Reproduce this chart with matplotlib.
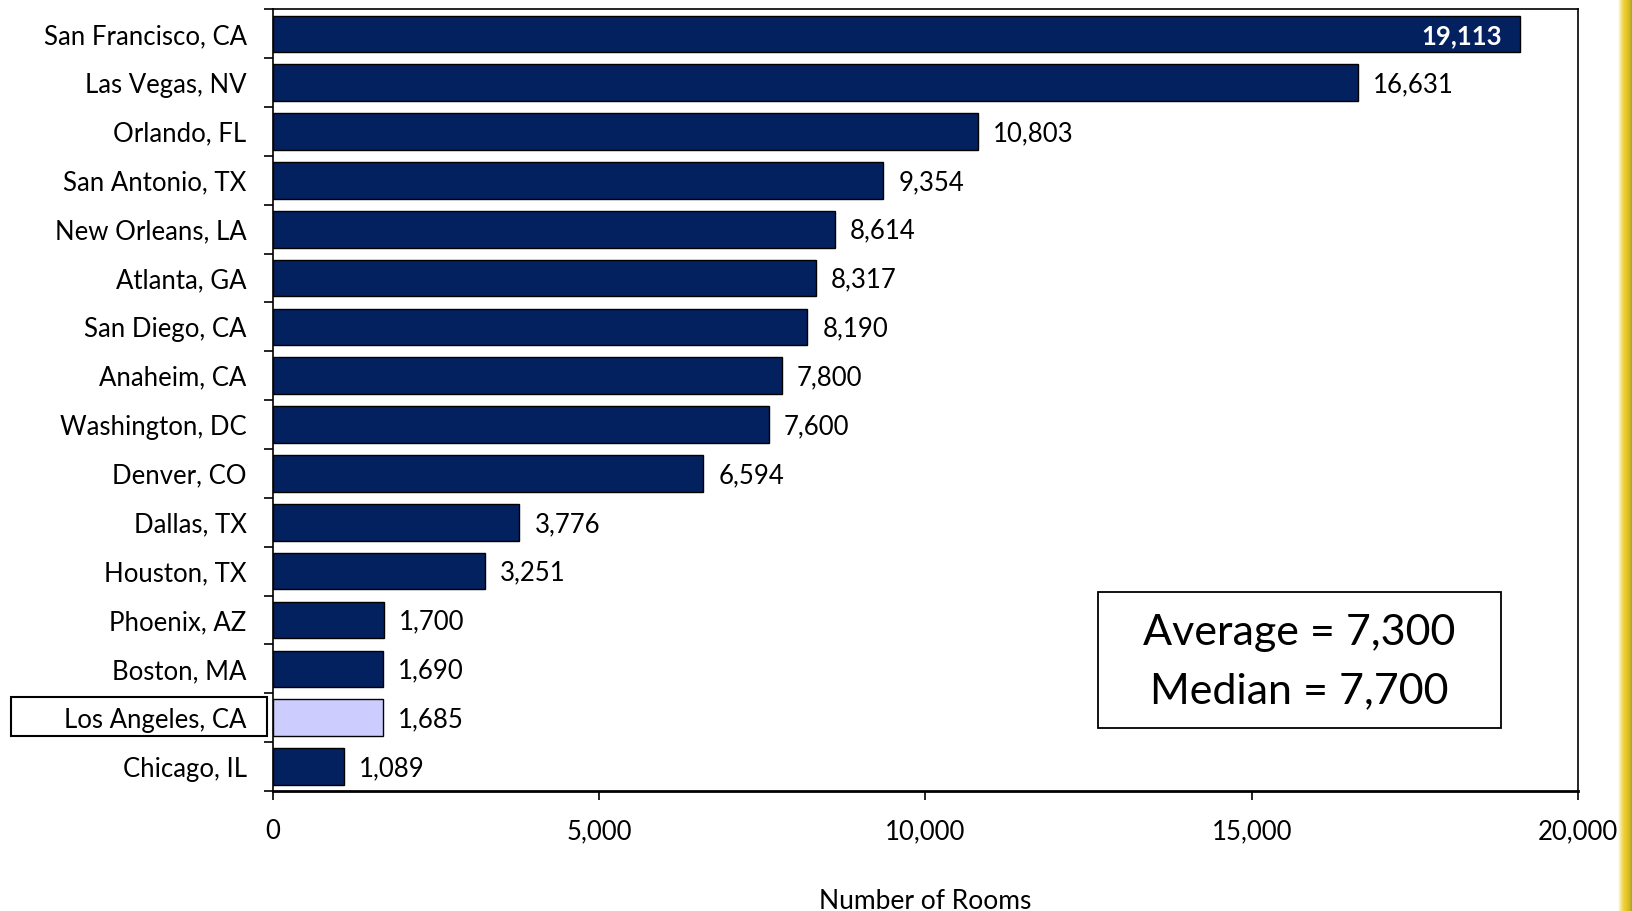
import matplotlib
matplotlib.use("Agg")
import matplotlib.pyplot as plt
from matplotlib.patches import Rectangle
from matplotlib.colors import LinearSegmentedColormap
import numpy as np

plt.rcParams['font.family'] = ['Lato', 'DejaVu Sans']

cities = ["San Francisco, CA", "Las Vegas, NV", "Orlando, FL", "San Antonio, TX",
          "New Orleans, LA", "Atlanta, GA", "San Diego, CA", "Anaheim, CA",
          "Washington, DC", "Denver, CO", "Dallas, TX", "Houston, TX",
          "Phoenix, AZ", "Boston, MA", "Los Angeles, CA", "Chicago, IL"]
rooms = [19113, 16631, 10803, 9354, 8614, 8317, 8190, 7800,
         7600, 6594, 3776, 3251, 1700, 1690, 1685, 1089]
highlight = "Los Angeles, CA"
summary_lines = ["Average = 7,300", "Median = 7,700"]
x_ticks = [0, 5000, 10000, 15000, 20000]
x_label = "Number of Rooms"

navy = "#03215F"
light = "#CCCCFF"
W, H = 1633, 911

fig = plt.figure(figsize=(W/100, H/100), dpi=100)

# decorative stripe on right edge (drawn first, behind everything)
sax = fig.add_axes([1618/W, 0, 15/W, 1], zorder=0)
cmap = LinearSegmentedColormap.from_list("stripe", ["#FFFFFF", "#F6E48A", "#EFCF3A", "#E6C41E", "#C9B42A", "#8E9A3A"])
sax.imshow(np.linspace(0, 1, 100)[None, :], aspect="auto", cmap=cmap, extent=[0, 1, 0, 1])
sax.axis("off")

ax = fig.add_axes([273/W, 1-791/H, (1578-273)/W, (791-9.4)/H], zorder=2)
ax.patch.set_alpha(0)

n = len(cities)
ypos = np.arange(n)
colors = [light if c == highlight else navy for c in cities]
ax.barh(ypos, rooms, height=0.75, color=colors, edgecolor="black", linewidth=1.0, zorder=3)
ax.set_ylim(n - 0.5, -0.5)
ax.set_xlim(0, 20000)

for y, v, c in zip(ypos, rooms, cities):
    if v > 18000:
        ax.annotate(f"{v:,}", (v, y), xytext=(-18, -2), textcoords="offset pixels",
                    ha="right", va="center", fontsize=18.5, color="white", fontweight="bold")
    else:
        ax.annotate(f"{v:,}", (v, y), xytext=(15, -2), textcoords="offset pixels",
                    ha="left", va="center", fontsize=18.5, color="black")

ax.set_yticks(ypos)
ax.set_yticklabels(cities, fontsize=18.5)
ax.set_yticks(np.arange(-0.5, n + 0.5, 1.0), minor=True)
ax.tick_params(axis="y", which="major", length=0, pad=19)
ax.tick_params(axis="y", which="minor", length=6.5, width=1.2, direction="out")

ax.set_xticks(x_ticks)
ax.set_xticklabels([f"{t:,}" for t in x_ticks], fontsize=18.5)
ax.tick_params(axis="x", which="major", length=6.5, width=1.2, direction="out", pad=14)
ax.set_xlabel(x_label, fontsize=19, labelpad=32)

for s in ["top", "right", "left"]:
    ax.spines[s].set_linewidth(1.2)
ax.spines["bottom"].set_linewidth(2.0)

# highlight box around LA label
fig.patches.append(Rectangle((10.5/W, 1-735.7/H), (266.6-10.5)/W, (735.7-697)/H,
                             transform=fig.transFigure, fill=False, edgecolor="black", linewidth=1.5))

# summary box
bx0, bx1, by0, by1 = 1098, 1501, 592, 728
ax.add_patch(Rectangle((bx0/W, 1-by1/H), (bx1-bx0)/W, (by1-by0)/H,
                       transform=fig.transFigure, facecolor="white", edgecolor="black",
                       linewidth=1.3, zorder=5))
cx = (bx0 + bx1) / 2
for i, line in enumerate(summary_lines):
    ax.text(cx/W, 1-(633 + i*58)/H, line, transform=fig.transFigure,
            ha="center", va="center", fontsize=31, zorder=6)

fig.savefig("out.png", dpi=100)
